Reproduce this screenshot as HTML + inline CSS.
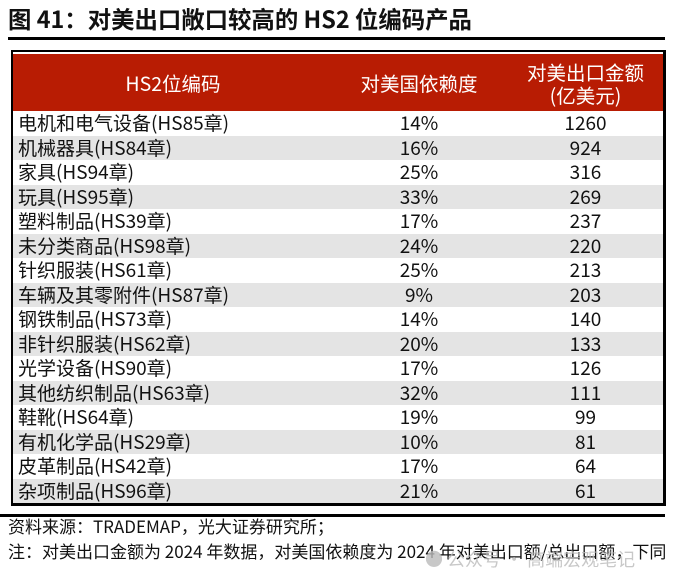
<!DOCTYPE html>
<html><head><meta charset="utf-8"><style>
body{margin:0;width:677px;height:585px;background:#fff;font-family:"Noto Sans CJK SC","Liberation Sans",sans-serif;position:relative;overflow:hidden}
.t{position:absolute;left:8px;top:2px;font-size:23.4px;font-weight:bold;color:#111;white-space:nowrap;line-height:32px}
.l1{position:absolute;left:8px;top:37px;width:657px;height:3px;background:#000}
.tb{position:absolute;left:11px;top:50px;width:650px;height:451px;border:2px solid #000;border-right-width:3px;border-bottom-width:3px}
.hd{position:absolute;left:0;top:2px;width:650px;height:57px;background:#b81c03;color:#fff;font-size:19.5px}
.hd div{position:absolute;top:0;height:57px;display:flex;align-items:center;justify-content:center;text-align:center;line-height:23px}
.r{position:absolute;left:0;width:650px;height:24.5px;font-size:19px;color:#111;line-height:24.5px}
.r.g{background:#e4e4e4}
.r span{position:absolute;top:0}
.a{left:5px}.b{left:320px;width:172px;text-align:center}.c{left:490px;width:165px;text-align:center}
.l2{position:absolute;left:0;top:514px;width:665px;height:3px;background:#000}
.f{position:absolute;left:8px;font-size:17px;color:#111;white-space:nowrap;line-height:22px}
.w{position:absolute;left:425px;top:546px;font-size:18px;color:#bbb;white-space:nowrap;opacity:.8}
</style></head><body>
<div class="t">图 41：对美出口敞口较高的 HS2 位编码产品</div>
<div class="l1"></div>
<div class="tb">
<div class="hd"><div style="left:0;width:320px">HS2位编码</div><div style="left:320px;width:172px">对美国依赖度</div><div style="left:490px;width:165px">对美出口金额<br>(亿美元)</div></div>
<div class="r" style="top:59px"><span class="a">电机和电气设备(HS85章)</span><span class="b">14%</span><span class="c">1260</span></div>
<div class="r g" style="top:83.5px"><span class="a">机械器具(HS84章)</span><span class="b">16%</span><span class="c">924</span></div>
<div class="r" style="top:108px"><span class="a">家具(HS94章)</span><span class="b">25%</span><span class="c">316</span></div>
<div class="r g" style="top:132.5px"><span class="a">玩具(HS95章)</span><span class="b">33%</span><span class="c">269</span></div>
<div class="r" style="top:157px"><span class="a">塑料制品(HS39章)</span><span class="b">17%</span><span class="c">237</span></div>
<div class="r g" style="top:181.5px"><span class="a">未分类商品(HS98章)</span><span class="b">24%</span><span class="c">220</span></div>
<div class="r" style="top:206px"><span class="a">针织服装(HS61章)</span><span class="b">25%</span><span class="c">213</span></div>
<div class="r g" style="top:230.5px"><span class="a">车辆及其零附件(HS87章)</span><span class="b">9%</span><span class="c">203</span></div>
<div class="r" style="top:255px"><span class="a">钢铁制品(HS73章)</span><span class="b">14%</span><span class="c">140</span></div>
<div class="r g" style="top:279.5px"><span class="a">非针织服装(HS62章)</span><span class="b">20%</span><span class="c">133</span></div>
<div class="r" style="top:304px"><span class="a">光学设备(HS90章)</span><span class="b">17%</span><span class="c">126</span></div>
<div class="r g" style="top:328.5px"><span class="a">其他纺织制品(HS63章)</span><span class="b">32%</span><span class="c">111</span></div>
<div class="r" style="top:353px"><span class="a">鞋靴(HS64章)</span><span class="b">19%</span><span class="c">99</span></div>
<div class="r g" style="top:377.5px"><span class="a">有机化学品(HS29章)</span><span class="b">10%</span><span class="c">81</span></div>
<div class="r" style="top:402px"><span class="a">皮革制品(HS42章)</span><span class="b">17%</span><span class="c">64</span></div>
<div class="r g" style="top:426.5px"><span class="a">杂项制品(HS96章)</span><span class="b">21%</span><span class="c">61</span></div>
</div>
<div class="l2"></div>
<div class="f" style="top:515px">资料来源：TRADEMAP，光大证券研究所；</div>
<div class="f" style="top:540px">注：对美出口金额为 2024 年数据，对美国依赖度为 2024 年对美出口额/总出口额，下同</div>
<div class="w">● 公众号 · 高端宏观笔记</div>
</body></html>
